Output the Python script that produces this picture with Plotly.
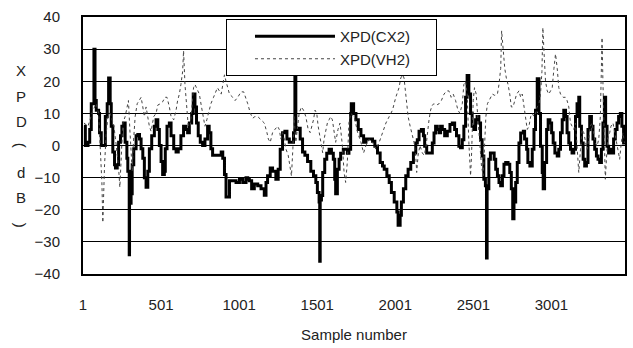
import plotly.graph_objects as go

# ---- data ----
cx2_sample = [7, 16, 33, 44, 54, 65, 71, 78, 86, 101, 107, 118, 135, 144, 156, 165, 175, 182, 192, 203,
              209, 220, 229, 241, 250, 260, 271, 282, 288, 297, 299, 309, 316, 326, 341, 352, 363, 373, 384, 394,
              405, 416, 426, 441, 458, 469, 480, 490, 501, 511, 522, 528, 539, 554, 565, 582, 597, 611, 628, 645,
              660, 671, 682, 697, 707, 718, 728, 739, 752, 767, 782, 799, 809, 820, 831, 845,
              864, 886, 896, 907, 917, 928, 939, 960, 981, 1003, 1024, 1045, 1056, 1066, 1081, 1098, 1120, 1141,
              1162, 1173, 1183, 1200, 1215, 1236, 1251, 1264, 1279, 1294, 1307, 1322, 1336, 1349, 1358, 1364,
              1375, 1392, 1407, 1422, 1439, 1460, 1477, 1492, 1502, 1513, 1517, 1520, 1528, 1536, 1549, 1562,
              1577, 1592, 1604, 1613, 1619, 1630, 1641, 1651, 1668, 1683, 1694, 1704, 1715, 1719,
              1734, 1749, 1764, 1781, 1798, 1813, 1834, 1855, 1870, 1887, 1904, 1919, 1930, 1947, 1962, 1976,
              1994, 2011, 2019, 2032, 2040, 2053, 2068, 2083, 2100, 2117, 2132, 2142, 2153, 2168, 2181, 2189,
              2202, 2217, 2227, 2238, 2249, 2259, 2270, 2281, 2291, 2302, 2317, 2334, 2351, 2366, 2381, 2393,
              2408, 2419, 2430, 2440, 2451, 2461, 2472, 2483, 2493, 2504, 2515, 2525, 2536, 2547, 2557, 2568,
              2578, 2585, 2589, 2600, 2610,
              2623, 2634, 2644, 2655, 2665, 2676, 2687, 2697, 2708, 2723, 2734, 2744, 2753, 2761, 2772, 2782,
              2793, 2804, 2821, 2829, 2842, 2850, 2863, 2878, 2889, 2899, 2910, 2921, 2931, 2942, 2948, 2957,
              2970, 2980, 2991, 3002, 3012, 3023, 3038, 3048, 3059, 3070, 3080, 3091, 3101, 3112, 3123, 3133,
              3144, 3155, 3165, 3176, 3182, 3193, 3204, 3214, 3225, 3235, 3246, 3257, 3267, 3278, 3289, 3299,
              3310, 3321, 3331, 3340, 3348, 3357, 3367, 3378, 3389, 3399, 3410, 3421, 3431, 3442, 3452, 3463, 3472]
cx2_db = [6, 0, 1, 5, 13, 13, 30, 14, 11, 10, 4, 0, 0, 9, 13, 21, 13, 6, -2, -6,
          -7, -6, 1, 3, 6, 7, 1, -4, -8, -34, -18, -15, -6, -1, 3, 3.4, 2, -1, -4, -10,
          -13, -8, -1, 3, 6, 8, 5, 0, -5, -9, -8, -1, 6, 7, 3, -1, -2, -1, 3, 6,
          5, 4, 7, 10, 16, 12, 7, 3, 1, 0, 2, 6, 4, -1, -3, -3,
          -3, -2, -4, -9, -16, -16, -11, -11, -11.5, -10.5, -11.5, -10, -10.5, -11, -13.5, -12, -12.5, -13.5,
          -15.5, -11.5, -9.4, -7, -8, -10.5, -7.4, -1.2, 4, 4.4, 2, 1, 1, 4, 23, 5,
          5.4, 2, -2, -3, -5, -8, -9.4, -11.5, -14.6, -17.6, -36, -17, -15.6, -8.4, -4.3, -2.4,
          -1.2, -2.4, -4.3, -10.5, -15, -7.4, -4.3, -2.4, -1.2, -1.2, -2.4, -1.2, 10, 13,
          10, 8, 5, 3, 1, 2, 2, 1.3, -0.2, -2.3, -5.3, -6.4, -7.4, -9.4, -11.5, -14.6,
          -17.6, -20.7, -24.8, -21.7, -17.6, -13.5, -9.4, -7.4, -5.3, -2.3, 0.8, 1.8, 4.4, 5, 3, -0.2,
          -2.3, -2.3, -2.3, 0.8, 3.9, 6, 5, 4, 6, 5, 3, 4.4, 6.5, 7, 5, 3,
          -0.2, -0.7, 1.8, 6, 15, 21.8, 16, 10, 6, 5, 8, 9, 7, 1.8, -3.3, -10.5,
          -12.5, -35, -13.5, -4.3, -2.3,
          -2.3, -4.3, -7.4, -9.4, -11.5, -12.5, -9.4, -5.8, -5.3, -5.8, -8.4, -13.5, -22.8, -17.6, -11.5, -5.3,
          0.8, 3.9, 4.4, 2, -1.2, -5.3, -6.4, -1.2, 5, 11, 20.8, 10, -0.2, -8.4, -13.5, -5.3,
          5, 8, 7, 4, 0.8, -2.3, -3.3, -1.2, 4, 8, 11, 9, 4, 0.8, -1.2, -2.3,
          -1.2, 9, 13, 15, 6, 0.8, -4.3, -6.4, -5.3, 5, 9, 6, 2, -1.2, -3.3, -4.3,
          -5.3, -1.2, 7, 15, 6, -0.2, -2.3, -1.2, -2.3, 2, 5, 7, 9, 10, 6, 0.8, 0.3]

vh2_sample = [7, 33, 65, 86, 101, 113, 122, 128, 139, 150, 165, 182, 199, 214, 229, 237, 246, 256, 271, 284,
              292, 301, 309, 316, 324, 335, 348, 362, 373, 384, 394, 405, 416, 426, 437, 454, 469, 480, 497, 511,
              526, 539, 554, 565, 582, 597, 607, 618, 628, 639, 645, 654, 667, 675, 688, 699, 709, 718, 731, 746,
              760, 773, 782, 794, 809, 820, 837, 852, 862,
              886, 907, 917, 939, 960, 975, 992, 1013, 1030, 1045, 1056, 1073, 1088, 1102, 1120, 1141, 1162, 1179,
              1188, 1200, 1215, 1230, 1247, 1258, 1268, 1279, 1290, 1300, 1315, 1328, 1336, 1345, 1353, 1364,
              1375, 1385, 1400, 1413, 1428, 1443, 1456, 1466, 1477, 1487, 1498, 1507, 1519, 1528, 1536, 1545,
              1556, 1566, 1577, 1587, 1598, 1609, 1619, 1634, 1647, 1662, 1673, 1683, 1694, 1704, 1715,
              1738, 1760, 1781, 1798, 1813, 1834, 1855, 1877, 1898, 1919, 1941, 1962, 1983, 2004, 2025, 2036,
              2047, 2057, 2068, 2083, 2096, 2111, 2121, 2132, 2138, 2147, 2159, 2174, 2185, 2196, 2206, 2217,
              2227, 2238, 2249, 2266, 2281, 2296, 2313, 2330, 2344, 2359, 2372, 2387, 2402, 2415, 2430, 2440,
              2451, 2461, 2472, 2483, 2489, 2500, 2508, 2519, 2529, 2542, 2553, 2564, 2572, 2581, 2591,
              2608, 2623, 2638, 2655, 2665, 2676, 2682, 2691, 2702, 2712, 2723, 2734, 2744, 2755, 2765, 2778,
              2793, 2804, 2814, 2825, 2836, 2846, 2857, 2868, 2878, 2889, 2899, 2910, 2921, 2931, 2940, 2946,
              2953, 2963, 2974, 2984, 2995, 3006, 3017, 3027, 3038, 3048, 3059, 3076, 3091, 3101, 3112, 3123,
              3133, 3144, 3155, 3165, 3176, 3187, 3197, 3208, 3218, 3229, 3240, 3250, 3261, 3272, 3282, 3293,
              3304, 3314, 3321, 3325, 3331, 3340, 3346, 3353, 3361, 3374, 3382, 3395, 3406, 3416, 3427, 3438,
              3448, 3459, 3469]
vh2_db = [7, 6, 11, 13, 10, -1, -11.5, -24, -6, 4, 11, 9, 6, 0, -7, -13, -3, 7, 9, 12,
          14, 5, -3, -8, 1, 9, 13, 14, 15, 12, 9, 12, 9, 6, 4.4, 9, 10, 12.6, 13, 13.6,
          15, 15, 12, 9, 8, 11, 14, 16, 19, 23, 29.5, 19, 11, 6, 6, 13, 18, 19, 17.7, 16,
          12, 9, 6, 8, 11, 13, 15, 17, 18,
          16, 22, 20, 16, 15, 14, 15, 16.7, 16.7, 14.7, 13, 10, 8.5, 9, 9, 8, 7, 4,
          2, 1, 4, 5, 6, 5, 2, 4, 2, -1, -3, -7, -9.5, -1, 9, 1,
          6, 10, 12, 11, 9, 5, 4, 6, 8, 11, 10, 6, 2, -1, -2.3, 2,
          5, 7, 8, 9, 8, 5, 1, 5, 7, 0, -8.4, -11.5, -5, 7, 10,
          9, 4, 1, -2.3, 0, 2, 1, -1.2, 1, 4, 7, 9, 11, 15, 18, 21,
          22, 21, 16, 9, 6, 3, 1, -3.3, -8.4, -3, 0, -2.3, -3, -1, 4, 8,
          11, 12.6, 13, 12.6, 13, 14, 16, 17, 17, 15, 16, 14, 11, 10, 13, 19,
          20, 16, 1, -9.4, -3.3, 14, 18, 16, 9, 1, -6.4, -9.4, -1.2, 9, 13,
          14.7, 16, 15.6, 16, 19, 24, 35.7, 29.5, 24, 21, 19, 16, 12, 12, 14, 16,
          17, 15, 16, 12, 7, 5, 6, 9, 10, 9, 10, 12, 13, 16, 23, 36.7,
          29.5, 20, 17, 16, 17, 18, 24, 28.5, 24, 18, 16, 15, 15, 14, 12, 7,
          6, 5, 7, -1.2, -8.4, -1.2, 5, 4, 2, -1.2, 2, 6, 7, 4, 0.8, -0.2,
          2, 9, 24, 33.6, 19, -1.2, -10.5, -4.3, 2, 4, 6, 7, 4, 0.8, -1.2, -4.3,
          0.8, 4, 0.8]

x_tick_vals = [1, 501, 1001, 1501, 2001, 2501, 3001]
x_tick_text = ["1", "501", "1001", "1501", "2001", "2501", "3001"]
y_tick_vals = [-40, -30, -20, -10, 0, 10, 20, 30, 40]
y_title_chars = ["X", "P", "D", "(", "d", "B", ")"]

FONT = "Liberation Sans, Arial, sans-serif"
NB = "\u00a0"

fig = go.Figure()
fig.add_trace(go.Scatter(x=cx2_sample, y=cx2_db, mode="lines", name="XPD(CX2)" + NB * 5,
                         legendgroup="a",
                         line=dict(color="#000000", width=3, shape="hv")))
fig.add_trace(go.Scatter(x=vh2_sample, y=vh2_db, mode="lines", name="XPD(VH2)" + NB * 5,
                         legendgroup="b",
                         line=dict(color="#444444", width=1, dash="dot")))

fig.update_layout(
    width=633, height=348,
    margin=dict(l=83, r=6, t=17, b=74),
    paper_bgcolor="white", plot_bgcolor="white",
    font=dict(family=FONT, size=15, color="#222222"),
    showlegend=True,
    legend=dict(x=(227 - 83) / 544, y=(274 - 19) / 257, xanchor="left", yanchor="top",
                bgcolor="white", bordercolor="black", borderwidth=1,
                font=dict(size=15, color="#222222"), itemwidth=80,
                title=dict(text=NB * 3, side="left", font=dict(size=15)),
                tracegroupgap=4, traceorder="normal"),
    xaxis=dict(range=[1, 3472], tickmode="array", tickvals=x_tick_vals, ticktext=x_tick_text,
               showgrid=False, zeroline=False, showline=True, linecolor="black", linewidth=2,
               mirror=True, ticks="", ticklabelstandoff=16,
               title=dict(text="Sample number", standoff=17, font=dict(size=15))),
    yaxis=dict(range=[-40, 40], tickmode="array", tickvals=y_tick_vals,
               showgrid=True, gridcolor="black", gridwidth=1, zeroline=False,
               showline=True, linecolor="black", linewidth=2, mirror=True,
               ticks="", ticklabelstandoff=18),
)

ys = [70, 96, 121, 145, 172, 197, 225]
for ch, yp in zip(y_title_chars, ys):
    fig.add_annotation(text=ch, xref="paper", yref="paper",
                       x=(21 - 83) / 544, y=(274 - yp) / 257, showarrow=False,
                       xanchor="center", yanchor="middle",
                       textangle=90 if ch in ("(", ")") else 0,
                       font=dict(family=FONT, size=15, color="#222222"))

fig.write_html("out.html")
